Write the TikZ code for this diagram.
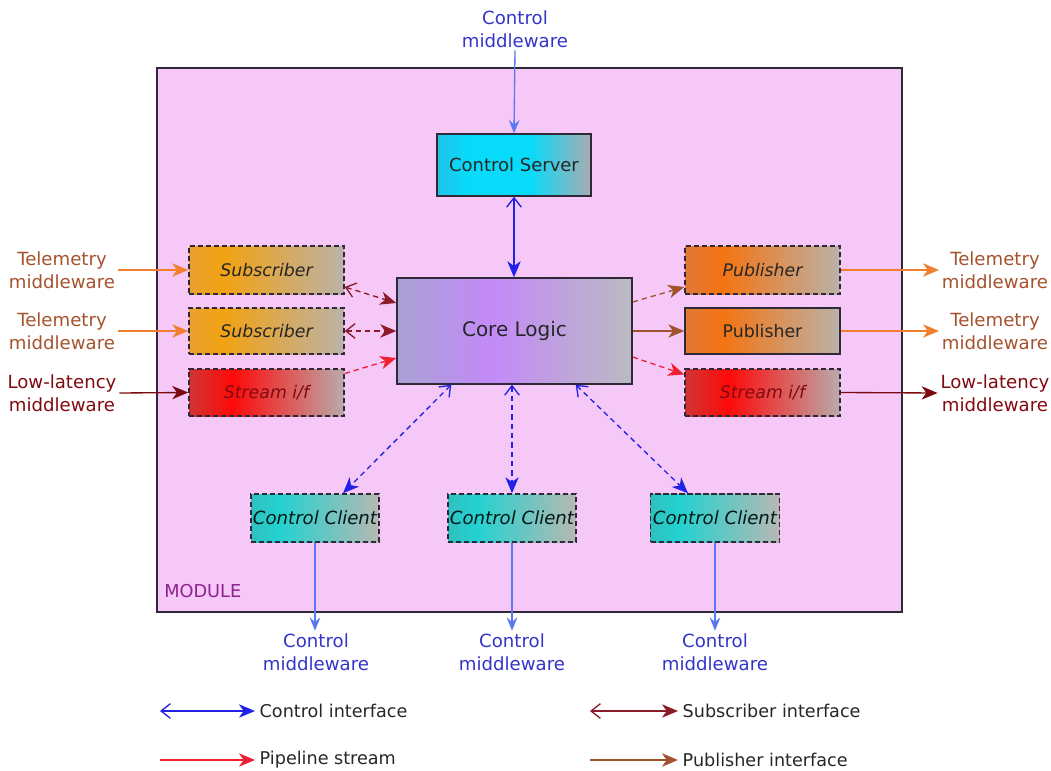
\documentclass[tikz,border=0pt]{standalone}
\usepackage{fontspec}
\setmainfont{DejaVu Sans}
\usetikzlibrary{arrows.meta,calc}
\newdimen\pxu \pxu=0.75pt
\definecolor{modfill}{HTML}{F6C8F8}
\definecolor{boxline}{HTML}{2E2838}
\definecolor{ctlcol}{HTML}{2222E6}
\definecolor{ctlext}{HTML}{5A78F0}
\definecolor{subcol}{HTML}{8B1A2A}
\definecolor{pipecol}{HTML}{F02030}
\definecolor{pubcol}{HTML}{A0522D}
\definecolor{telecol}{HTML}{F08030}
\definecolor{lowcol}{HTML}{7A0A10}
\definecolor{teletext}{HTML}{A5522D}
\definecolor{lowtext}{HTML}{800A10}
\definecolor{ctltext}{HTML}{3434C8}
\definecolor{modtext}{HTML}{902090}
\definecolor{csA}{HTML}{20C4E8}\definecolor{csB}{HTML}{08DAFA}\definecolor{csC}{HTML}{A8ACB0}
\definecolor{coA}{HTML}{A8A2D2}\definecolor{coB}{HTML}{C48AF8}\definecolor{coC}{HTML}{BABAC2}
\definecolor{suA}{HTML}{E8A030}\definecolor{suB}{HTML}{F2A212}\definecolor{suC}{HTML}{BAB2A8}
\definecolor{puA}{HTML}{E07838}\definecolor{puB}{HTML}{F47412}\definecolor{puC}{HTML}{BAB2A8}
\definecolor{stA}{HTML}{D03434}\definecolor{stB}{HTML}{FF0A0A}\definecolor{stC}{HTML}{BAAAAA}
\definecolor{clA}{HTML}{30C0C0}\definecolor{clB}{HTML}{22D2D0}\definecolor{clC}{HTML}{B8B8B2}
\pgfdeclarehorizontalshading{csshade}{100bp}{color(0bp)=(csA); color(25bp)=(csA); color(35bp)=(csB); color(55bp)=(csB); color(75bp)=(csC); color(100bp)=(csC)}
\pgfdeclarehorizontalshading{coshade}{100bp}{color(0bp)=(coA); color(25bp)=(coA); color(45bp)=(coB); color(75bp)=(coC); color(100bp)=(coC)}
\pgfdeclarehorizontalshading{sushade}{100bp}{color(0bp)=(suA); color(25bp)=(suA); color(36bp)=(suB); color(75bp)=(suC); color(100bp)=(suC)}
\pgfdeclarehorizontalshading{pushade}{100bp}{color(0bp)=(puA); color(25bp)=(puA); color(37bp)=(puB); color(75bp)=(puC); color(100bp)=(puC)}
\pgfdeclarehorizontalshading{stshade}{100bp}{color(0bp)=(stA); color(25bp)=(stA); color(39bp)=(stB); color(75bp)=(stC); color(100bp)=(stC)}
\pgfdeclarehorizontalshading{clshade}{100bp}{color(0bp)=(clA); color(25bp)=(clA); color(36bp)=(clB); color(75bp)=(clC); color(100bp)=(clC)}
\tikzset{
  FTip/.tip={Stealth[length=12pt,width=10pt,inset=3.5pt]},
  OTip/.tip={Straight Barb[length=7pt,width=11pt]},
  ETip/.tip={Stealth[length=10pt,width=8pt,inset=3.5pt]},
  box/.style={rectangle, draw=boxline, line width=1.1pt, inner sep=0pt,
    minimum width=155*\pxu, minimum height=48*\pxu, font=\fontsize{13}{15}\selectfont, text=black!85},
  dbox/.style={box, dash pattern=on 4pt off 2pt, font=\fontsize{13}{15}\selectfont\itshape},
  lbl/.style={align=center, font=\fontsize{13.6}{17}\selectfont, inner sep=2pt},
  leg/.style={anchor=west, font=\fontsize{13.2}{15}\selectfont, text=black!85},
  conn/.style={line width=1pt},
  dconn/.style={line width=1pt, dash pattern=on 4pt off 3pt},
}
\begin{document}
\begin{tikzpicture}[x=0.75pt,y=-0.75pt]
\useasboundingbox (0,0) rectangle (1051,771);
% module
\node[rectangle, draw=boxline, line width=1.1pt, fill=modfill, minimum width=745*\pxu, minimum height=544*\pxu, inner sep=0pt] (module) at (529.5,340) {};
\node[anchor=west, text=modtext, font=\fontsize{13.3}{15}\selectfont, inner sep=0pt] (modlbl) at (164,591) {MODULE};
% boxes
\node[box, shading=csshade, minimum width=154*\pxu, minimum height=62*\pxu, font=\fontsize{13.5}{15}\selectfont] (cs) at (514,165) {Control Server};
\node[box, shading=coshade, minimum width=235*\pxu, minimum height=106*\pxu, font=\fontsize{15}{17}\selectfont] (core) at (514.5,331) {Core Logic};
\node[dbox, shading=sushade] (sub1) at (266.5,270) {Subscriber};
\node[dbox, shading=sushade, minimum height=46*\pxu] (sub2) at (266.5,331) {Subscriber};
\node[dbox, shading=stshade, minimum height=47*\pxu, text=lowtext] (strL) at (266.5,392.5) {Stream i/f};
\node[dbox, shading=pushade] (pub1) at (762.5,270) {Publisher};
\node[box, shading=pushade, minimum height=46*\pxu] (pub2) at (762.5,331) {Publisher};
\node[dbox, shading=stshade, minimum height=47*\pxu, text=lowtext] (strR) at (762.5,392.5) {Stream i/f};
\node[dbox, shading=clshade, minimum width=128*\pxu, text=black!80!teal, font=\fontsize{13.6}{15}\selectfont\itshape] (cc1) at (315,518) {Control Client};
\node[dbox, shading=clshade, minimum width=128*\pxu, text=black!80!teal, font=\fontsize{13.6}{15}\selectfont\itshape] (cc2) at (512,518) {Control Client};
\node[dbox, shading=clshade, minimum width=129*\pxu, text=black!80!teal, font=\fontsize{13.6}{15}\selectfont\itshape] (cc3) at (715,518) {Control Client};
% external labels
\node[lbl, text=ctltext] (cmt) at (515,29) {Control\\middleware};
\node[lbl, text=teletext] (tl1) at (62,270) {Telemetry\\middleware};
\node[lbl, text=teletext] (tl2) at (62,331) {Telemetry\\middleware};
\node[lbl, text=lowtext] (ll) at (62,393) {Low-latency\\middleware};
\node[lbl, text=teletext] (tr1) at (995,270) {Telemetry\\middleware};
\node[lbl, text=teletext] (tr2) at (995,331) {Telemetry\\middleware};
\node[lbl, text=lowtext] (lr) at (995,393) {Low-latency\\middleware};
\node[lbl, text=ctltext] (cmb1) at (316,652) {Control\\middleware};
\node[lbl, text=ctltext] (cmb2) at (512,652) {Control\\middleware};
\node[lbl, text=ctltext] (cmb3) at (715,652) {Control\\middleware};
% external connectors
\draw[conn, ctlext, -{ETip}] (cmt.south) -- (cs.north);
\draw[conn, telecol, -{FTip}] (tl1.east) -- (sub1.west);
\draw[conn, telecol, -{FTip}] (tl2.east) -- (sub2.west);
\draw[conn, lowcol, -{FTip}] (ll.east) -- (strL.west);
\draw[conn, telecol, -{FTip}] (pub1.east) -- (tr1.west);
\draw[conn, telecol, -{FTip}] (pub2.east) -- (tr2.west);
\draw[conn, lowcol, -{FTip}] (strR.east) -- (lr.west);
\draw[conn, ctlext, -{ETip}] (cc1.south) -- (cc1.south |- cmb1.north);
\draw[conn, ctlext, -{ETip}] (cc2.south) -- (cc2.south |- cmb2.north);
\draw[conn, ctlext, -{ETip}] (cc3.south) -- (cc3.south |- cmb3.north);
% internal connectors
\draw[conn, ctlcol, {OTip}-{FTip}] (cs.south) -- (cs.south |- core.north);
\draw[dconn, subcol, {OTip}-{FTip}] ($(sub1.east)+(0,17)$) -- ($(core.west)+(0,-28)$);
\draw[dconn, subcol, {OTip}-{FTip}] (sub2.east) -- (core.west);
\draw[dconn, pipecol, -{FTip}] ($(strL.east)+(0,-19)$) -- ($(core.west)+(0,27)$);
\draw[dconn, pubcol, -{FTip}] ($(core.east)+(0,-29)$) -- ($(pub1.west)+(0,17)$);
\draw[conn, pubcol, -{FTip}] (core.east) -- (pub2.west);
\draw[dconn, pipecol, -{FTip}] ($(core.east)+(0,26)$) -- ($(strR.west)+(0,-18)$);
\draw[dconn, ctlcol, {OTip}-{FTip}] ($(core.south west)+(55,0)$) -- ($(cc1.north)+(28,0)$);
\draw[dconn, ctlcol, {OTip}-{FTip}] (core.south -| cc2.north) -- (cc2.north);
\draw[dconn, ctlcol, {OTip}-{FTip}] ($(core.south east)+(-57,0)$) -- ($(cc3.north)+(-27,0)$);
% legend
\coordinate (lg1) at (160,711);
\coordinate (lg2) at (160,760);
\coordinate (lg3) at (590,711);
\coordinate (lg4) at (590,760);
\node[leg] (lt1) at (255,711) {Control interface};
\node[leg] (lt2) at (255,760) {Pipeline stream};
\node[leg] (lt3) at (678,711) {Subscriber interface};
\node[leg] (lt4) at (678,760) {Publisher interface};
\draw[conn, ctlcol, {OTip}-{FTip}] (lg1) -- (lt1.west);
\draw[conn, pipecol, -{FTip}] (lg2) -- (lt2.west);
\draw[conn, subcol, {OTip}-{FTip}] (lg3) -- (lt3.west);
\draw[conn, pubcol, -{FTip}] (lg4) -- (lt4.west);
\end{tikzpicture}
\end{document}
